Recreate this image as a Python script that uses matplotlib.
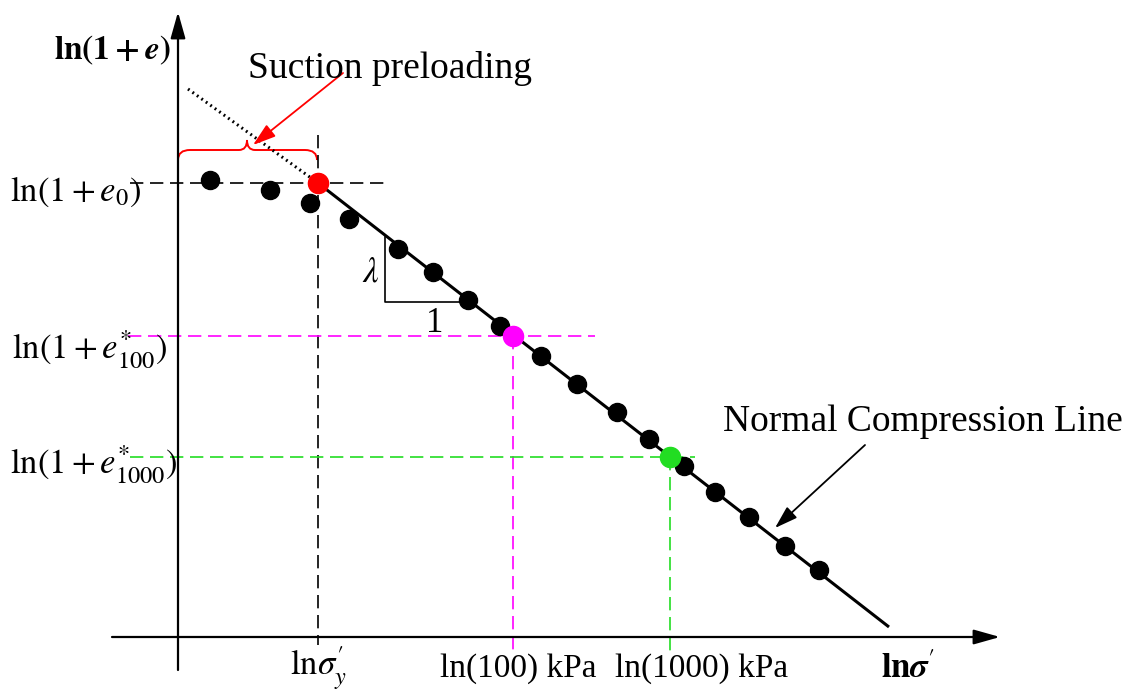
import matplotlib
matplotlib.use("Agg")
import matplotlib.pyplot as plt
from matplotlib.path import Path
from matplotlib.patches import PathPatch

plt.rcParams["mathtext.fontset"] = "stix"
plt.rcParams["font.family"] = ["Liberation Serif", "DejaVu Serif"]

# Compression test points (ln sigma', ln(1+e)) in schematic units
pts_x = [32, 92, 132, 171, 220, 255, 290, 322, 363, 399, 439, 471, 506, 537, 571, 607, 641]
pts_y = [457, 447, 434, 418, 388, 365, 337, 311, 281, 253, 225, 198, 171, 145, 120, 91, 67]

# Key points: yield (suction preloading), 100 kPa and 1000 kPa
yield_pt = (140, 454)
p100_pt = (335, 301)
p1000_pt = (492, 180)

# Normal compression line end points and its backward extension
ncl_x = [140, 711]
ncl_y = [454, 10]
ext_x = [10, 140]
ext_y = [548, 454]

# Slope triangle
tri_x = [207, 207, 290]
tri_y = [400, 335, 335]

RED = "#ff0000"
MAG = "#ff00ff"
GRN = "#22dd22"

fig = plt.figure(figsize=(11.38, 6.95), dpi=100)
ax = fig.add_axes([0, 0, 1, 1])
ax.set_xlim(-178, 960)
ax.set_ylim(-58, 637)
ax.axis("off")

# Axes with arrow heads
ax.annotate("", xy=(822, 0), xytext=(-66, 0),
            arrowprops=dict(arrowstyle="-|>,head_length=1.6,head_width=0.45",
                            lw=1.6, color="black", shrinkA=0, shrinkB=0))
ax.annotate("", xy=(0, 625), xytext=(0, -33),
            arrowprops=dict(arrowstyle="-|>,head_length=1.6,head_width=0.45",
                            lw=1.6, color="black", shrinkA=0, shrinkB=0))

# Guide lines
dash = (8, 4)
ax.plot([-48, 207], [yield_pt[1]] * 2, color="black", lw=1.2, dashes=dash)
ax.plot([yield_pt[0]] * 2, [502, -8], color="black", lw=1.2, dashes=dash)
ax.plot([-50, 417], [p100_pt[1]] * 2, color=MAG, lw=1.2, dashes=dash)
ax.plot([p100_pt[0]] * 2, [p100_pt[1], -18], color=MAG, lw=1.2, dashes=dash)
ax.plot([-48, 517], [p1000_pt[1]] * 2, color=GRN, lw=1.2, dashes=dash)
ax.plot([p1000_pt[0]] * 2, [p1000_pt[1], -16], color=GRN, lw=1.2, dashes=dash)

# Normal compression line and its dotted extension
ax.plot(ncl_x, ncl_y, color="black", lw=2.2, solid_capstyle="butt")
ax.plot(ext_x, ext_y, color="black", lw=2.2, linestyle=(0, (0.6, 1.2)))

# Slope triangle
ax.plot(tri_x, tri_y, color="black", lw=1.2)
ax.text(201, 364, r"$\lambda$", fontsize=25, ha="right", va="center")
ax.text(257, 313, "1", fontsize=25, ha="center", va="center")

# Data points
ax.plot(pts_x, pts_y, "o", color="black", ms=13, zorder=5)
ax.plot(*yield_pt, "o", color=RED, ms=14.5, zorder=6)
ax.plot(*p100_pt, "o", color=MAG, ms=14.5, zorder=6)
ax.plot(*p1000_pt, "o", color=GRN, ms=14.5, zorder=6)

# Brace marking the suction preloading range
bx0, bx1, bm = 0, 139, 69
by0, by1, byt = 477, 487, 497
verts = [(bx0, by0), (bx0, by1), (bx0 + 12, by1),
         (bm - 8, by1), (bm, by1), (bm, byt),
         (bm, by1), (bm + 8, by1),
         (bx1 - 12, by1), (bx1, by1), (bx1, by0)]
codes = [Path.MOVETO, Path.CURVE3, Path.CURVE3,
         Path.LINETO, Path.CURVE3, Path.CURVE3,
         Path.CURVE3, Path.CURVE3,
         Path.LINETO, Path.CURVE3, Path.CURVE3]
ax.add_patch(PathPatch(Path(verts, codes), fill=False, edgecolor=RED, lw=1.4))

# Annotation arrows
ax.annotate("", xy=(75, 492), xytext=(165, 564),
            arrowprops=dict(arrowstyle="-|>,head_length=1.4,head_width=0.45",
                            lw=1.3, color=RED, shrinkA=0, shrinkB=0))
ax.annotate("", xy=(597, 109), xytext=(687, 192),
            arrowprops=dict(arrowstyle="-|>,head_length=1.4,head_width=0.45",
                            lw=1.3, color="black", shrinkA=0, shrinkB=0))

# Labels
ax.text(-66, 587, r"$\mathbf{ln(1+}\mathbfit{e}\mathbf{)}$", fontsize=24,
        ha="center", va="center")
ax.text(70, 569, "Suction preloading", fontsize=27, ha="left", va="center")
ax.text(545, 215, "Normal Compression Line", fontsize=27, ha="left", va="center")

ax.text(-168, 445, r"$\mathrm{ln}(1+e_0)$", fontsize=25, ha="left", va="center")
ax.text(-166, 287, r"$\mathrm{ln}(1+e^{*}_{100})$", fontsize=25, ha="left", va="center")
ax.text(-168, 172, r"$\mathrm{ln}(1+e^{*}_{1000})$", fontsize=25, ha="left", va="center")

ax.text(140, -31, r"$\mathrm{ln}\sigma_y^{\prime}$", fontsize=25, ha="center", va="center")
ax.text(340, -32, "ln(100) kPa", fontsize=24, ha="center", va="center")
ax.text(524, -32, "ln(1000) kPa", fontsize=24, ha="center", va="center")
ax.text(730, -33, r"$\mathbf{ln}\mathbfit{\sigma}^{\prime}$", fontsize=25,
        ha="center", va="center")

fig.savefig("out.png", dpi=100)
